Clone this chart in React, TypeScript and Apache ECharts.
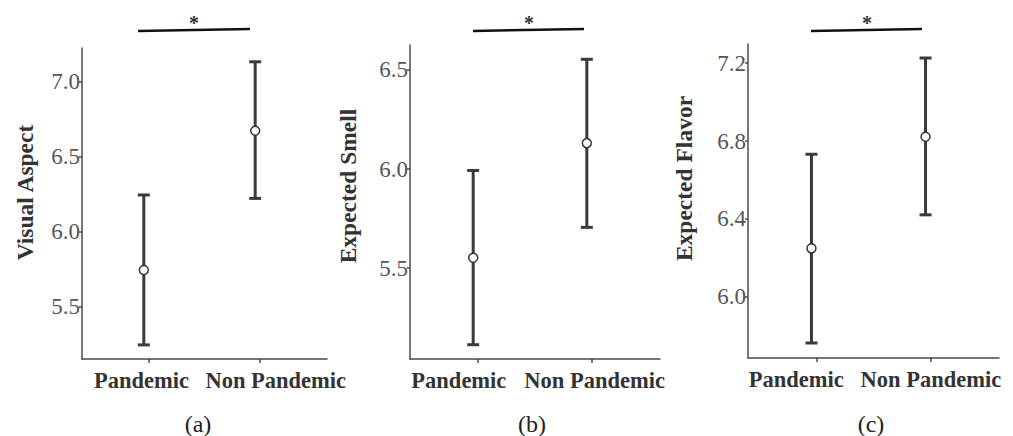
import React, { useEffect, useRef } from "react";
import * as echarts from "echarts";

const categories = ["Pandemic", "Non Pandemic"];

const visualMean = [5.745, 6.673];
const visualLow = [5.245, 6.222];
const visualHigh = [6.245, 7.133];

const smellMean = [5.553, 6.131];
const smellLow = [5.114, 5.706];
const smellHigh = [5.993, 6.554];

const flavorMean = [6.249, 6.822];
const flavorLow = [5.763, 6.421];
const flavorHigh = [6.732, 7.226];

const visualTicks = [5.5, 6.0, 6.5, 7.0];
const smellTicks = [5.5, 6.0, 6.5];
const flavorTicks = [6.0, 6.4, 6.8, 7.2];

const yTitles = ["Visual Aspect", "Expected Smell", "Expected Flavor"];
const panelLabels = ["(a)", "(b)", "(c)"];

const SERIF = "Liberation Serif";
const BAR = "#3a3a3a";
const AXIS = "#4a4a4a";

export default function App() {
  const ref = useRef<HTMLDivElement>(null);
  useEffect(() => {
    document.body.style.margin = "0";
    const chart = echarts.init(ref.current!, null, { renderer: "svg" });

    // labelAt: where each category label is centred along the axis (the source figure
    // does not centre them exactly under the ticks)
    const panels = [
      { mean: visualMean, low: visualLow, high: visualHigh, ticks: visualTicks, min: 5.151, max: 7.225,
        labelAt: [0.935, 2.14], grid: { left: 82, top: 48, width: 245, height: 311 } },
      { mean: smellMean, low: smellLow, high: smellHigh, ticks: smellTicks, min: 5.042, max: 6.626,
        labelAt: [0.83, 2.025], grid: { left: 410, top: 45, width: 250, height: 314 } },
      { mean: flavorMean, low: flavorLow, high: flavorHigh, ticks: flavorTicks, min: 5.686, max: 7.298,
        labelAt: [0.823, 2.003], grid: { left: 748, top: 44, width: 251, height: 314 } },
    ];

    const grids = panels.map((p) => ({ ...p.grid, containLabel: false }));
    const xAxes = panels.map((p, i) => ({
      type: "value",
      gridIndex: i,
      min: 0.4,
      max: 2.6,
      splitLine: { show: false },
      axisLine: { show: true, onZero: false, lineStyle: { color: AXIS, width: 1.5 } },
      axisTick: { show: true, customValues: [1, 2], length: 4, lineStyle: { color: AXIS, width: 1.5 } },
      axisLabel: {
        customValues: p.labelAt,
        showMinLabel: true,
        showMaxLabel: true,
        formatter: (v: number) => (v < 1.5 ? categories[0] : categories[1]),
        fontFamily: SERIF,
        fontWeight: "bold",
        fontSize: 22.5,
        color: "#333",
        margin: 10,
      },
    }));
    const yAxes = panels.map((p, i) => ({
      type: "value",
      gridIndex: i,
      min: p.min,
      max: p.max,
      splitLine: { show: false },
      axisLine: { show: true, onZero: false, lineStyle: { color: AXIS, width: 1.5 } },
      axisTick: { show: true, customValues: p.ticks, length: 3, lineStyle: { color: AXIS, width: 1.5 } },
      axisLabel: {
        customValues: p.ticks,
        showMinLabel: true,
        showMaxLabel: true,
        formatter: (v: number) => v.toFixed(1),
        fontFamily: SERIF,
        fontSize: 23,
        color: "#555",
        margin: 2,
      },
    }));

    const series = panels.map((p, i) => ({
      type: "custom",
      xAxisIndex: i,
      yAxisIndex: i,
      data: categories.map((_, k) => [k + 1, p.mean[k], p.low[k], p.high[k]]),
      renderItem: (params: any, api: any) => {
        const x = api.value(0);
        const m = api.coord([x, api.value(1)]);
        const lo = api.coord([x, api.value(2)]);
        const hi = api.coord([x, api.value(3)]);
        const cx = m[0] - 5;
        const cap = 6;
        const lineStyle = { stroke: BAR, lineWidth: 3 };
        return {
          type: "group",
          children: [
            { type: "line", shape: { x1: cx, y1: lo[1], x2: cx, y2: hi[1] }, style: lineStyle },
            { type: "line", shape: { x1: cx - cap, y1: hi[1], x2: cx + cap, y2: hi[1] }, style: lineStyle },
            { type: "line", shape: { x1: cx - cap, y1: lo[1], x2: cx + cap, y2: lo[1] }, style: lineStyle },
            { type: "circle", shape: { cx, cy: m[1], r: 4.5 }, style: { fill: "#fff", stroke: "#333", lineWidth: 1.5 } },
          ],
        };
      },
    }));

    const titlePos = [
      { x: 25, y: 192.5 },
      { x: 348, y: 186 },
      { x: 684, y: 178.5 },
    ];
    const sig = [
      { x1: 138, x2: 250, star: 194 },
      { x1: 473, x2: 584, star: 529 },
      { x1: 811, x2: 922, star: 867 },
    ];
    const subPos = [198, 532, 871];

    const graphic: any[] = [];
    yTitles.forEach((t, i) => {
      graphic.push({
        type: "text",
        x: titlePos[i].x,
        y: titlePos[i].y,
        rotation: Math.PI / 2,
        style: {
          text: t,
          fontFamily: SERIF,
          fontWeight: "bold",
          fontSize: 23.5,
          fill: "#333",
          textAlign: "center",
          textVerticalAlign: "middle",
        },
      });
    });
    sig.forEach((s) => {
      graphic.push({
        type: "line",
        shape: { x1: s.x1, y1: 31, x2: s.x2, y2: 29 },
        style: { stroke: "#111", lineWidth: 2.5 },
      });
      graphic.push({
        type: "text",
        x: s.star,
        y: 23,
        style: {
          text: "*",
          fontFamily: SERIF,
          fontWeight: "bold",
          fontSize: 20,
          fill: "#333",
          textAlign: "center",
          textVerticalAlign: "middle",
        },
      });
    });
    panelLabels.forEach((t, i) => {
      graphic.push({
        type: "text",
        x: subPos[i],
        y: 424,
        style: {
          text: t,
          fontFamily: SERIF,
          fontSize: 24,
          fill: "#222",
          textAlign: "center",
          textVerticalAlign: "middle",
        },
      });
    });

    chart.setOption({
      animation: false,
      backgroundColor: "#fff",
      grid: grids,
      xAxis: xAxes,
      yAxis: yAxes,
      series,
      graphic,
    });
    return () => chart.dispose();
  }, []);
  return <div ref={ref} style={{ width: 1013, height: 436 }} />;
}
